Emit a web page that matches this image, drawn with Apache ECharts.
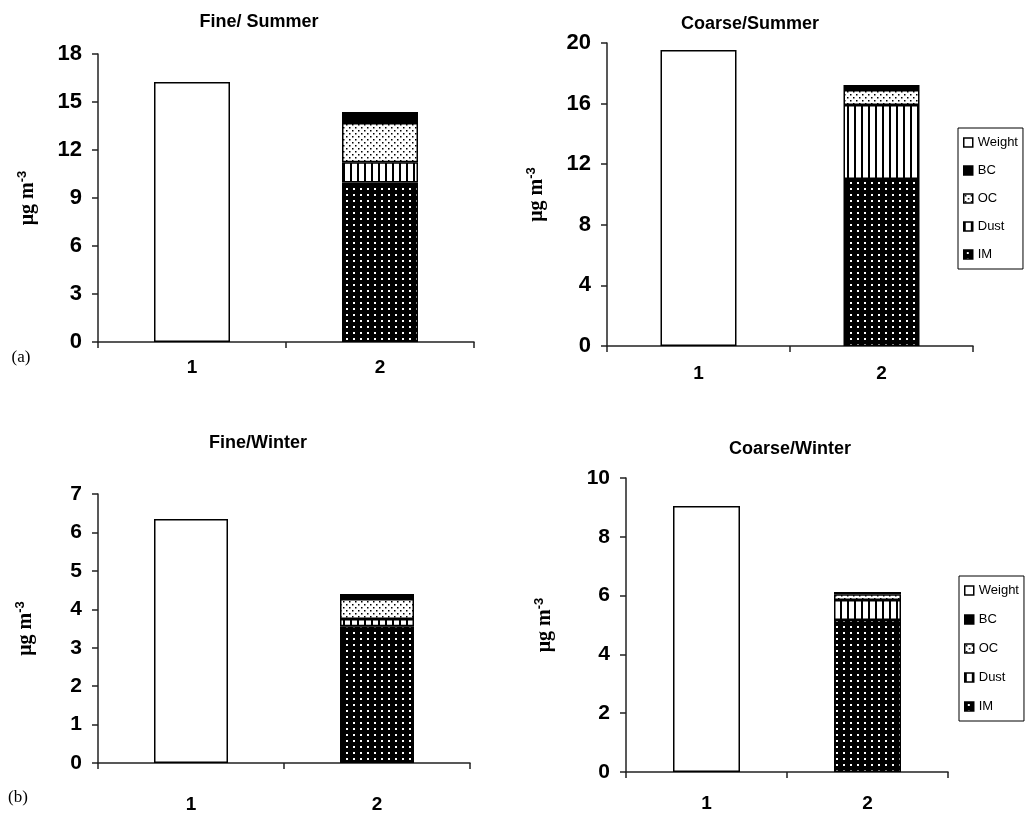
<!DOCTYPE html>
<html>
<head>
<meta charset="utf-8">
<script src="https://cdn.jsdelivr.net/npm/echarts@6/dist/echarts.min.js"></script>
<style>
  html, body { margin: 0; padding: 0; background: #fff; }
  #main { width: 1033px; height: 815px; }
</style>
</head>
<body>
<div id="main"></div>
<script>
  // panels: Fine/Summer, Coarse/Summer, Fine/Winter, Coarse/Winter
  const panelTitles = ['Fine/ Summer', 'Coarse/Summer', 'Fine/Winter', 'Coarse/Winter'];
  const categories = ['1', '2'];
  // bar 1: gravimetric weight ; bar 2: reconstructed components
  const weight = [16.25, 19.54, 6.35, 9.05];
  const im = [9.97, 11.02, 3.56, 5.17];
  const dust = [1.26, 4.88, 0.19, 0.68];
  const oc = [2.45, 1.0, 0.52, 0.2];
  const bc = [0.69, 0.33, 0.13, 0.07];
  const yMax = [18, 20, 7, 10];
  const yStep = [3, 4, 1, 2];

  const font = 'Liberation Sans, Arial, sans-serif';
  const serif = 'Liberation Serif, Times New Roman, serif';

  // pattern tiles for the black & white fills
  function tile(w, h, draw) {
    const c = document.createElement('canvas');
    c.width = w; c.height = h;
    const ctx = c.getContext('2d');
    draw(ctx);
    return { image: c, repeat: 'repeat' };
  }
  const imFill = tile(7, 6, function (ctx) {
    ctx.fillStyle = '#000'; ctx.fillRect(0, 0, 7, 6);
    ctx.fillStyle = '#fff'; ctx.fillRect(3, 2, 2, 2);
  });
  const dustFill = tile(7, 4, function (ctx) {
    ctx.fillStyle = '#fff'; ctx.fillRect(0, 0, 7, 4);
    ctx.fillStyle = '#000'; ctx.fillRect(0, 0, 2, 4);
  });
  const ocFill = tile(6, 6, function (ctx) {
    ctx.fillStyle = '#fff'; ctx.fillRect(0, 0, 6, 6);
    ctx.fillStyle = '#000';
    ctx.fillRect(1, 1, 1.5, 1.5);
    ctx.fillRect(4, 4, 1.5, 1.5);
  });

  // grid boxes (px)
  const grids = [
    { left: 98, top: 54, width: 376, height: 288 },
    { left: 607, top: 43, width: 366, height: 303 },
    { left: 98, top: 494, width: 372, height: 269 },
    { left: 626, top: 478, width: 322, height: 294 }
  ];
  const barW = [76, 76, 74, 67];
  const xLabelMargin = [16, 18, 32, 22];
  const nameGap = [58, 58, 60, 69];
  const labelSize = [22, 22, 21, 21];

  const xAxes = [], yAxes = [], series = [];
  for (let i = 0; i < 4; i++) {
    xAxes.push({
      type: 'category', gridIndex: i, data: categories,
      axisLine: { lineStyle: { color: '#222', width: 1.5 } },
      axisTick: { show: true, length: 6, lineStyle: { color: '#222', width: 1.5 } },
      axisLabel: { color: '#000', fontFamily: font, fontWeight: 'bold', fontSize: 19, margin: xLabelMargin[i] },
      splitLine: { show: false }
    });
    yAxes.push({
      type: 'value', gridIndex: i, min: 0, max: yMax[i], interval: yStep[i],
      axisLine: { show: true, lineStyle: { color: '#222', width: 1.5 } },
      axisTick: { show: true, length: 6, lineStyle: { color: '#222', width: 1.5 } },
      axisLabel: { color: '#000', fontFamily: font, fontWeight: 'bold', fontSize: labelSize[i], margin: 16 },
      splitLine: { show: false },
      name: 'μg m{sup|-3}', nameLocation: 'middle', nameGap: nameGap[i],
      nameTextStyle: {
        color: '#000', fontFamily: serif, fontWeight: 'bold', fontSize: 20,
        rich: { sup: { fontFamily: font, fontWeight: 'bold', fontSize: 13, color: '#000', padding: [0, 0, 11, 0] } }
      }
    });
    const common = {
      type: 'bar', xAxisIndex: i, yAxisIndex: i, stack: 'p' + i, barWidth: barW[i],
      silent: true, animation: false
    };
    const border = { borderColor: '#000', borderWidth: 1.5 };
    series.push(Object.assign({}, common, { name: 'Weight', data: [weight[i], '-'], itemStyle: Object.assign({ color: '#fff' }, border) }));
    series.push(Object.assign({}, common, { name: 'IM', data: ['-', im[i]], itemStyle: Object.assign({ color: imFill }, border) }));
    series.push(Object.assign({}, common, { name: 'Dust', data: ['-', dust[i]], itemStyle: Object.assign({ color: dustFill }, border) }));
    series.push(Object.assign({}, common, { name: 'OC', data: ['-', oc[i]], itemStyle: Object.assign({ color: ocFill }, border) }));
    series.push(Object.assign({}, common, { name: 'BC', data: ['-', bc[i]], itemStyle: Object.assign({ color: '#000' }, border) }));
  }

  const legendNames = ['Weight', 'BC', 'OC', 'Dust', 'IM'];
  function legendAt(left, top, gap) {
    return {
      data: legendNames, orient: 'vertical', left: left, top: top,
      icon: 'rect', itemWidth: 9, itemHeight: 9, itemGap: gap, selectedMode: false,
      borderColor: '#000', borderWidth: 1, padding: [8, 5, 8, 5],
      textStyle: { color: '#000', fontFamily: font, fontSize: 13 },
      itemStyle: { borderColor: '#000', borderWidth: 1.5 }
    };
  }

  function label(text, x, y, f) {
    return { type: 'text', x: x, y: y, style: { text: text, font: f, fill: '#000', align: 'center', verticalAlign: 'middle' } };
  }

  const chart = echarts.init(document.getElementById('main'), null, { renderer: 'canvas' });
  chart.setOption({
    animation: false,
    grid: grids.map(function (g) { return Object.assign({ containLabel: false }, g); }),
    xAxis: xAxes,
    yAxis: yAxes,
    series: series,
    legend: [legendAt(958, 128, 15), legendAt(959, 576, 16)],
    graphic: [
      label(panelTitles[0], 259, 22, 'bold 18px ' + font),
      label(panelTitles[1], 750, 24, 'bold 18px ' + font),
      label(panelTitles[2], 258, 443, 'bold 18px ' + font),
      label(panelTitles[3], 790, 449, 'bold 18px ' + font),
      label('(a)', 21, 358, '17px ' + serif),
      label('(b)', 18, 798, '17px ' + serif)
    ]
  });
</script>
</body>
</html>
